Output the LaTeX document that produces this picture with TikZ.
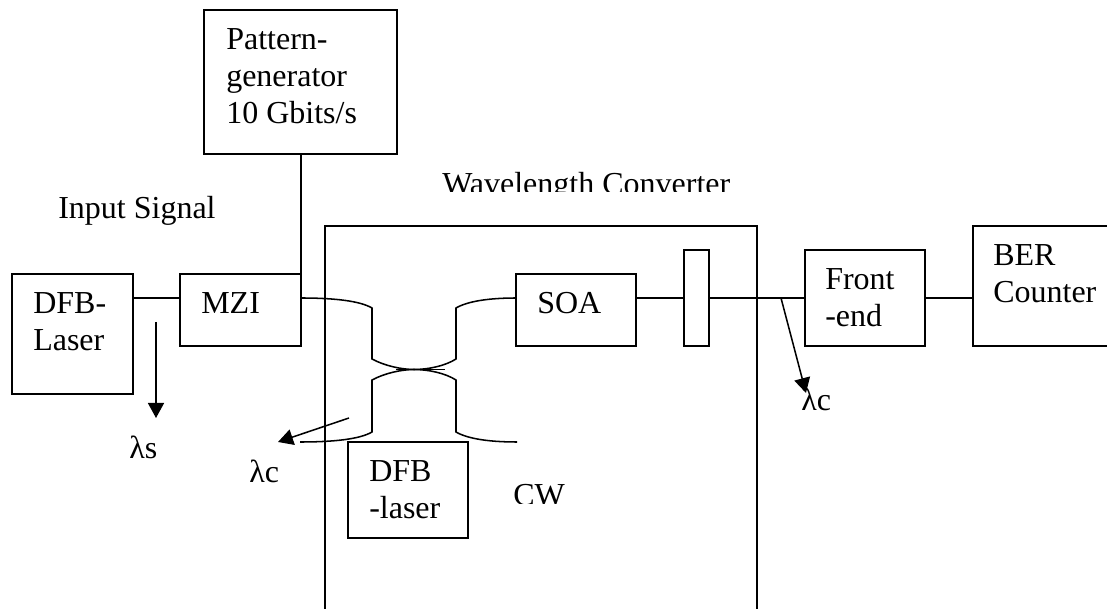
\documentclass[tikz,border=0pt]{standalone}
\usepackage{fontspec}
\setmainfont{Liberation Serif}
\usetikzlibrary{arrows.meta}
\tikzset{
  x=0.75pt,y=-0.75pt,
  line/.style={draw=black,line width=1.15pt},
  boxn/.style={line,rectangle,anchor=north west,inner sep=0pt,outer sep=0pt,minimum width=#1*0.75pt},
  boxh/.style={minimum height=#1*0.75pt},
  lab/.style={inner sep=0pt,anchor=base west,font=\fontsize{24}{28}\selectfont},
  arr/.style={line,-{Triangle[length=11.25pt,width=12pt]}}
}
\begin{document}
\begin{tikzpicture}
\useasboundingbox (0,0) rectangle (1107,609);
\clip (0,0) rectangle (1107,609);
\fill[white] (0,0) rectangle (1107,609);
% outer converter (open at the lower edge)
\coordinate (wa) at (325,609);
\coordinate (wb) at (325,226);
\coordinate (wc) at (757,226);
\coordinate (wd) at (757,609);
\draw[line] (wa) -- (wb) -- (wc) -- (wd);
% boxes
\node[boxn=121,boxh=120] (dfb) at (12,274) {};
\node[boxn=121,boxh=72] (mzi) at (180,274) {};
\node[boxn=193,boxh=144] (pg) at (204,10) {};
\node[boxn=120,boxh=72] (soa) at (516,274) {};
\node[boxn=25,boxh=96] (filt) at (684,250) {};
\node[boxn=120,boxh=96] (fe) at (805,250) {};
\node[boxn=120,boxh=96] (cw) at (348,442) {};
% BER box runs off the right edge
\coordinate (bera) at (1107,226);
\coordinate (berb) at (973,226);
\coordinate (berc) at (973,346);
\coordinate (berd) at (1107,346);
\draw[line] (bera) -- (berb) -- (berc) -- (berd);
% ports on the signal line
\coordinate (dfbE) at (133,298);
\coordinate (mziW) at (180,298);
\coordinate (mziE) at (301,298);
\coordinate (mziN) at (301,274);
\coordinate (pgS) at (301,154);
\coordinate (soaW) at (516,298);
\coordinate (soaE) at (636,298);
\coordinate (filtW) at (684,298);
\coordinate (filtE) at (709,298);
\coordinate (feW) at (805,298);
\coordinate (feE) at (925,298);
\coordinate (berW) at (973,298);
\coordinate (cwL) at (300,442);
\coordinate (cwR) at (517,442);
% connectors
\draw[line] (dfbE) -- (mziW);
\draw[line] (pgS) -- (mziN);
\draw[line] (soaE) -- (filtW);
\draw[line] (filtE) -- (feW);
\draw[line] (feE) -- (berW);
% coupler
\draw[line] (mziE) .. controls (335,298) and (360,301) .. (372,308) -- (372,359)
  .. controls (385,366) and (402,369.5) .. (414,369.5)
  .. controls (428,369.5) and (445,366) .. (456,359)
  -- (456,308) .. controls (468,301) and (490,298) .. (soaW);
\draw[line] (396,369.5) -- (445,369.5);
\draw[line] (cwL) .. controls (335,442) and (360,439) .. (372,432) -- (372,380)
  .. controls (385,373) and (402,369.5) .. (414,369.5)
  .. controls (428,369.5) and (445,373) .. (456,380)
  -- (456,432) .. controls (468,439) and (490,442) .. (cwR);
% wavelength arrows
\coordinate (a1s) at (156,322);
\coordinate (a1e) at (156,418);
\coordinate (a2s) at (349,418);
\coordinate (a2e) at (278,442);
\coordinate (a3s) at (781,298);
\coordinate (a3e) at (806,393);
\draw[arr] (a1s) -- (a1e);
\draw[arr] (a2s) -- (a2e);
\draw[arr] (a3s) -- (a3e);
% text
\node[lab] (t1) at (226,50) {Pattern-};
\node[lab] (t2) at (226,87) {generator};
\node[lab] (t3) at (226,124) {10 Gbits/s};
\begin{scope}
\clip (300,150) rectangle (800,192);
\node[lab] (t4) at (442,195) {Wavelength Converter};
\end{scope}
\node[lab] (t5) at (58,219) {Input Signal};
\node[lab] (t6) at (33,314) {DFB-};
\node[lab] (t7) at (33,351) {Laser};
\node[lab] (t8) at (201,314) {MZI};
\node[lab] (t9) at (537,314) {SOA};
\node[lab] (t10) at (825,290) {Front};
\node[lab] (t11) at (825,327) {-end};
\node[lab] (t12) at (993,266) {BER};
\node[lab] (t13) at (993,303) {Counter};
\node[lab] (t14) at (369,482) {DFB};
\node[lab] (t15) at (369,518) {-laser};
\begin{scope}
\clip (500,460) rectangle (600,503.5);
\node[lab] (t16) at (513,506) {CW};
\end{scope}
\node[lab] (t17) at (129,459) {λs};
\node[lab] (t18) at (249,483) {λc};
\node[lab] (t19) at (801,411) {λc};
\end{tikzpicture}
\end{document}
